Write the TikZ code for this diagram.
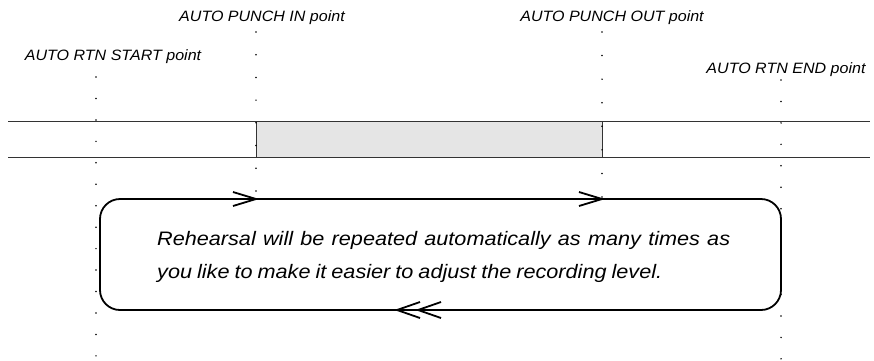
\documentclass[tikz,border=0pt]{standalone}
\usepackage{fontspec}
\setmainfont{Liberation Sans}
\newfontfamily\lblfont[FakeStretch=1.07]{Liberation Sans}
\newfontfamily\msgfont[FakeStretch=1.11]{Liberation Sans}
\begin{document}
\begin{tikzpicture}[x=1pt,y=-1pt,
  lbl/.style={font=\lblfont\itshape\fontsize{15}{18}\selectfont, anchor=base, inner sep=0pt},
  msgline/.style={font=\msgfont\itshape\fontsize{19.5}{33}\selectfont, anchor=base west, inner sep=0pt},
  dotline/.style={line width=1.7pt, line cap=round, dash pattern=on 0pt off #1},
  track/.style={line width=0.9pt, draw=black!80},
  loopbox/.style={draw, line width=1.8pt, rounded corners=20pt, minimum width=681pt, minimum height=111pt, inner sep=0pt},
  chev/.style={line width=1.8pt, line join=miter}
]
\useasboundingbox (0,0) rectangle (874,360);
% track
\draw[track] (8,121) -- (870,121);
\draw[track] (8,157) -- (870,157);
\node (punch) [draw=black!80, fill=black!10, line width=0.9pt, minimum width=346pt, minimum height=36pt, inner sep=0pt, anchor=north west] at (256,121) {};
% labels
\node (lin) [lbl] at (262,21) {AUTO PUNCH IN point};
\node (lout) [lbl] at (612,21) {AUTO PUNCH OUT point};
\node (lstart) [lbl] at (113,60) {AUTO RTN START point};
\node (lend) [lbl] at (786,73) {AUTO RTN END point};
% dotted markers
\coordinate (rsA) at (96,77);  \coordinate (rsB) at (96,356);
\coordinate (piA) at (256,32); \coordinate (piB) at (256,191);
\coordinate (poA) at (602,32); \coordinate (poB) at (602,197);
\coordinate (reA) at (781,80); \coordinate (reB) at (781,359);
\draw[dotline=21.45pt] (rsA) -- (rsB);
\draw[dotline=22.7pt] (piA) -- (piB);
\draw[dotline=23.57pt] (poA) -- (poB);
\draw[dotline=21.45pt] (reA) -- (reB);
% loop box
\node (loop) [loopbox] at (440.5,254.5) {};
\node (msgA) [msgline] at (157,245) {\makebox[573pt][s]{Rehearsal will be repeated automatically as many times as}};
\node (msgB) [msgline] at (157,278) {\makebox[505pt][s]{you like to make it easier to adjust the recording level.}};
% arrow heads on loop
\draw[chev] (233,192) -- (256,199) -- (233,206);
\draw[chev] (579,192) -- (602,199) -- (579,206);
\draw[chev] (420,302) -- (397,310) -- (420,318);
\draw[chev] (441,302) -- (418,310) -- (441,318);
\end{tikzpicture}
\end{document}
